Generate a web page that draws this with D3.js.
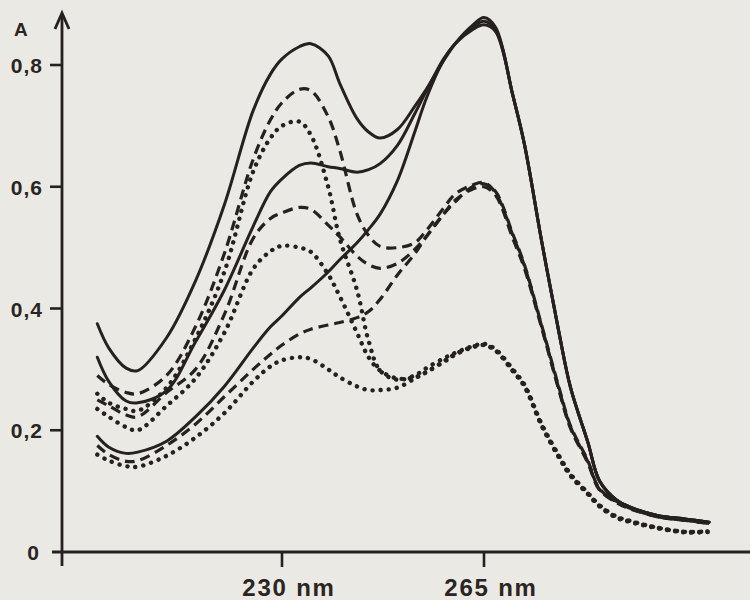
<!DOCTYPE html>
<html>
<head>
<meta charset="utf-8">
<script src="https://cdn.jsdelivr.net/npm/d3@7"></script>
<style>
  html, body { margin: 0; padding: 0; background: #eae9e3; }
  svg { display: block; }
  text { font-family: "Liberation Sans", Arial, sans-serif; font-weight: bold; fill: #2a2522; }
</style>
</head>
<body>
<div id="chart"></div>
<script>
var width = 750,
    height = 600,
    ink = "#262120";

// wavelengths (nm) shared by every spectrum
var wavelengths = [198, 200, 203, 205, 210, 215, 220, 225, 228, 230,
                   233, 235, 238, 240, 243, 245, 247, 250, 253, 255,
                   258, 260, 263, 265, 267, 270, 272, 275, 278, 280,
                   283, 285, 288, 290, 295, 300, 304];

// absorbance, solid curves
var solidHigh = [0.375, 0.335, 0.302, 0.298, 0.352, 0.445, 0.570, 0.725, 0.785, 0.810,
                 0.830, 0.835, 0.815, 0.770, 0.712, 0.690, 0.680, 0.694, 0.732, 0.760,
                 0.807, 0.835, 0.865, 0.878, 0.862, 0.750, 0.670, 0.510, 0.360, 0.270,
                 0.180, 0.117, 0.085, 0.075, 0.060, 0.054, 0.049];
var solidMid  = [0.320, 0.280, 0.248, 0.245, 0.265, 0.345, 0.430, 0.535, 0.592, 0.613,
                 0.635, 0.639, 0.633, 0.630, 0.624, 0.628, 0.638, 0.668, 0.720, 0.757,
                 0.810, 0.835, 0.862, 0.872, 0.858, 0.750, 0.670, 0.510, 0.360, 0.270,
                 0.180, 0.117, 0.085, 0.075, 0.060, 0.054, 0.049];
var solidLow  = [0.190, 0.172, 0.162, 0.164, 0.182, 0.222, 0.272, 0.335, 0.370, 0.388,
                 0.418, 0.434, 0.460, 0.480, 0.508, 0.530, 0.555, 0.610, 0.690, 0.745,
                 0.808, 0.835, 0.858, 0.866, 0.855, 0.750, 0.670, 0.510, 0.360, 0.270,
                 0.180, 0.117, 0.085, 0.075, 0.060, 0.054, 0.049];

// absorbance, dashed curves
var dashHigh  = [0.290, 0.275, 0.262, 0.260, 0.290, 0.370, 0.490, 0.645, 0.710, 0.738,
                 0.760, 0.758, 0.715, 0.660, 0.555, 0.520, 0.502, 0.500, 0.508, 0.528,
                 0.565, 0.588, 0.603, 0.607, 0.590, 0.520, 0.470, 0.370, 0.267, 0.205,
                 0.148, 0.103, 0.082, 0.073, 0.058, 0.052, 0.047];
var dashMid   = [0.250, 0.240, 0.225, 0.222, 0.262, 0.300, 0.390, 0.515, 0.548, 0.557,
                 0.566, 0.563, 0.537, 0.518, 0.486, 0.472, 0.466, 0.474, 0.497, 0.518,
                 0.555, 0.578, 0.596, 0.600, 0.586, 0.515, 0.466, 0.368, 0.265, 0.203,
                 0.146, 0.102, 0.081, 0.072, 0.058, 0.052, 0.047];
var dashLow   = [0.175, 0.160, 0.149, 0.150, 0.175, 0.210, 0.255, 0.300, 0.325, 0.340,
                 0.358, 0.366, 0.373, 0.377, 0.385, 0.395, 0.415, 0.455, 0.490, 0.518,
                 0.555, 0.575, 0.600, 0.605, 0.592, 0.522, 0.472, 0.372, 0.270, 0.207,
                 0.150, 0.104, 0.083, 0.073, 0.058, 0.052, 0.047];

// absorbance, dotted curves
var dotHigh   = [0.260, 0.245, 0.235, 0.232, 0.270, 0.350, 0.460, 0.625, 0.680, 0.700,
                 0.707, 0.685, 0.600, 0.515, 0.430, 0.347, 0.298, 0.283, 0.290, 0.302,
                 0.318, 0.327, 0.338, 0.342, 0.333, 0.300, 0.275, 0.210, 0.158, 0.128,
                 0.097, 0.077, 0.058, 0.052, 0.040, 0.033, 0.034];
var dotMid    = [0.235, 0.222, 0.205, 0.200, 0.240, 0.285, 0.360, 0.465, 0.494, 0.503,
                 0.500, 0.493, 0.456, 0.420, 0.360, 0.320, 0.298, 0.285, 0.287, 0.295,
                 0.313, 0.325, 0.337, 0.340, 0.331, 0.298, 0.273, 0.208, 0.156, 0.126,
                 0.096, 0.076, 0.057, 0.051, 0.040, 0.033, 0.034];
var dotLow    = [0.160, 0.150, 0.141, 0.140, 0.158, 0.188, 0.228, 0.280, 0.305, 0.315,
                 0.320, 0.317, 0.300, 0.287, 0.272, 0.266, 0.266, 0.270, 0.285, 0.296,
                 0.312, 0.324, 0.336, 0.340, 0.331, 0.297, 0.272, 0.207, 0.155, 0.125,
                 0.095, 0.075, 0.056, 0.050, 0.039, 0.032, 0.033];

var yTicks = [0, 0.2, 0.4, 0.6, 0.8];
var yTickLabels = ["0", "0,2", "0,4", "0,6", "0,8"];
var xTicks = [230, 265];
var xTickLabels = ["230 nm", "265 nm"];

var series = [
  {values: solidHigh, style: "solid"},
  {values: solidMid, style: "solid"},
  {values: solidLow, style: "solid"},
  {values: dashHigh, style: "dash"},
  {values: dashMid, style: "dash"},
  {values: dashLow, style: "dash"},
  {values: dotHigh, style: "dot"},
  {values: dotMid, style: "dot"},
  {values: dotLow, style: "dot"}
];

var x0 = 62, y0 = 552;

// 230 nm sits at x=282, 265 nm at x=484
var x = d3.scaleLinear().domain([230, 265]).range([282, 484]);
var y = d3.scaleLinear().domain([0, 0.8]).range([y0, 65]);

var svg = d3.select("#chart").append("svg")
    .attr("width", width)
    .attr("height", height);

svg.append("rect")
    .attr("width", width)
    .attr("height", height)
    .attr("fill", "#eae9e3");

// spectra
var line = d3.line()
    .x(function(d) { return x(d[0]); })
    .y(function(d) { return y(d[1]); })
    .curve(d3.curveCatmullRom.alpha(0.5));

var dashes = {solid: null, dash: "10 6", dot: "0.1 8"};
var widths = {solid: 3, dash: 3.2, dot: 4.4};

svg.append("g")
  .selectAll("path")
    .data(series)
  .enter().append("path")
    .attr("d", function(s) {
      return line(wavelengths.map(function(w, i) { return [w, s.values[i]]; }));
    })
    .attr("fill", "none")
    .attr("stroke", ink)
    .attr("stroke-width", function(s) { return widths[s.style]; })
    .attr("stroke-linecap", function(s) { return s.style === "dash" ? "butt" : "round"; })
    .attr("stroke-linejoin", "round")
    .attr("stroke-dasharray", function(s) { return dashes[s.style]; });

// axes
svg.append("line")
    .attr("x1", 52).attr("x2", width)
    .attr("y1", y0).attr("y2", y0)
    .attr("stroke", ink).attr("stroke-width", 2.8);

svg.append("line")
    .attr("x1", x0).attr("x2", x0)
    .attr("y1", 14).attr("y2", 566)
    .attr("stroke", ink).attr("stroke-width", 2.8);

svg.append("path")
    .attr("d", "M55,29L" + x0 + ",13L69,29")
    .attr("fill", "none")
    .attr("stroke", ink)
    .attr("stroke-width", 2.8)
    .attr("stroke-linejoin", "miter");

var yAxis = svg.append("g");
yAxis.selectAll("line")
    .data(yTicks.slice(1))
  .enter().append("line")
    .attr("x1", 50).attr("x2", x0)
    .attr("y1", function(d) { return y(d); })
    .attr("y2", function(d) { return y(d); })
    .attr("stroke", ink).attr("stroke-width", 2.6);

yAxis.selectAll("text")
    .data(yTicks)
  .enter().append("text")
    .attr("x", function(d) { return d === 0 ? 40 : 43; })
    .attr("y", function(d) { return y(d) + 8; })
    .attr("text-anchor", "end")
    .style("font-size", "21px")
    .style("letter-spacing", "1px")
    .text(function(d, i) { return yTickLabels[i]; });

var xAxis = svg.append("g");
xAxis.selectAll("line")
    .data(xTicks)
  .enter().append("line")
    .attr("x1", function(d) { return x(d); })
    .attr("x2", function(d) { return x(d); })
    .attr("y1", y0).attr("y2", 567)
    .attr("stroke", ink).attr("stroke-width", 2.6);

xAxis.selectAll("text")
    .data(xTicks)
  .enter().append("text")
    .attr("x", function(d) { return x(d) + 7; })
    .attr("y", 596)
    .attr("text-anchor", "middle")
    .style("font-size", "24px")
    .style("letter-spacing", "1.8px")
    .text(function(d, i) { return xTickLabels[i]; });

svg.append("text")
    .attr("x", 14)
    .attr("y", 36)
    .style("font-size", "19px")
    .text("A");
</script>
</body>
</html>
